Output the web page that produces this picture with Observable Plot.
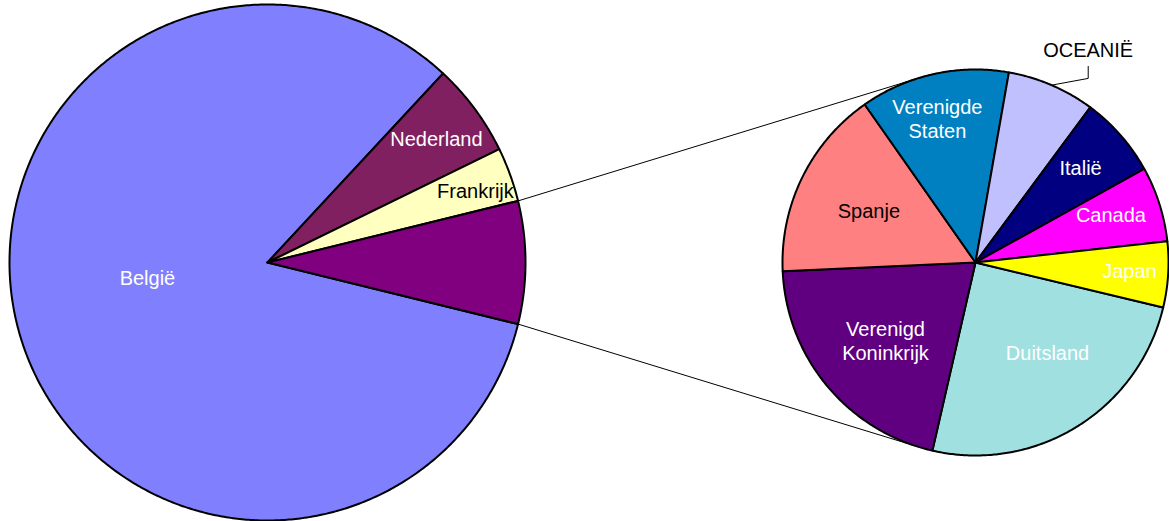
<!DOCTYPE html>
<html>
<head>
<meta charset="utf-8">
<script src="https://cdn.jsdelivr.net/npm/d3@7"></script>
<script src="https://cdn.jsdelivr.net/npm/@observablehq/plot@0.6"></script>
<style>
  html, body { margin: 0; padding: 0; background: #ffffff; }
  #chart svg { display: block; }
</style>
</head>
<body>
<div id="chart"></div>
<script>
// ---------- data ----------
const mainCategories = ["België", "Nederland", "Frankrijk"];
const mainValues = [83.08, 5.85, 3.40];
const otherCategory = "Overige";
const otherCategories = ["Duitsland", "Verenigd Koninkrijk", "Spanje", "Verenigde Staten", "OCEANIË", "Italië", "Canada", "Japan"];
const otherValues = [1.905, 1.587, 1.227, 0.959, 0.565, 0.522, 0.484, 0.422];
const labelTexts = {
  "België": "België", "Nederland": "Nederland", "Frankrijk": "Frankrijk",
  "Duitsland": "Duitsland", "Verenigd Koninkrijk": "Verenigd\nKoninkrijk",
  "Spanje": "Spanje", "Verenigde Staten": "Verenigde\nStaten", "OCEANIË": "OCEANIË",
  "Italië": "Italië", "Canada": "Canada", "Japan": "Japan"
};

// ---------- styles / layout ----------
const colors = {
  "België": "#8080FF", "Nederland": "#802060", "Frankrijk": "#FFFFC0", "Overige": "#800080",
  "Duitsland": "#A0E0E0", "Verenigd Koninkrijk": "#600080", "Spanje": "#FF8080",
  "Verenigde Staten": "#0080C0", "OCEANIË": "#C0C0FF", "Italië": "#000080",
  "Canada": "#FF00FF", "Japan": "#FFFF00"
};
const darkText = new Set(["Frankrijk", "Spanje", "OCEANIË"]);
// label placement: [angle shift in degrees from slice middle, radius as fraction of pie radius]
const labelPlacement = {
  "België": [9.5, 0.469], "Nederland": [0.3, 0.812], "Frankrijk": [0.8, 0.853],
  "Duitsland": [-6.9, 0.597], "Verenigd Koninkrijk": [-1.05, 0.617], "Spanje": [-0.3, 0.614],
  "Verenigde Staten": [-2.3, 0.771], "OCEANIË": [4.65, 1.249], "Italië": [-0.85, 0.734],
  "Canada": [-1.95, 0.745], "Japan": [-0.6, 0.799]
};
const W = 1169, H = 521;
const mainPie = {cx: 267, cy: 262, r: 258};
const secPie = {cx: 975, cy: 262, r: 193};
const secStartDeg = 103.5;
const rad = Math.PI / 180;

// ---------- geometry ----------
const otherTotal = d3.sum(otherValues);
const total = d3.sum(mainValues) + otherTotal;
const otherSpan = 2 * Math.PI * otherTotal / total;
const mainStart = Math.PI / 2 + otherSpan / 2;

const mainData = mainCategories.map((c, i) => ({name: c, value: mainValues[i]}))
  .concat([{name: otherCategory, value: otherTotal}]);
const secData = otherCategories.map((c, i) => ({name: c, value: otherValues[i]}));

const mainSlices = d3.pie().sort(null).value(d => d.value)
  .startAngle(mainStart).endAngle(mainStart + 2 * Math.PI)(mainData);
const secSlices = d3.pie().sort(null).value(d => d.value)
  .startAngle(secStartDeg * rad).endAngle(secStartDeg * rad + 2 * Math.PI)(secData);

function polar(pie, a, k) {
  return {x: pie.cx + k * pie.r * Math.sin(a), y: pie.cy - k * pie.r * Math.cos(a)};
}
function wedge(s, pie) {
  const n = Math.max(2, Math.ceil((s.endAngle - s.startAngle) / (0.5 * rad)));
  const pts = [{name: s.data.name, x: pie.cx, y: pie.cy}];
  for (let i = 0; i <= n; i++) {
    const a = s.startAngle + (s.endAngle - s.startAngle) * i / n;
    pts.push({name: s.data.name, ...polar(pie, a, 1)});
  }
  pts.push({name: s.data.name, x: pie.cx, y: pie.cy});
  return pts;
}
const mainPts = mainSlices.flatMap(s => wedge(s, mainPie));
const secPts = secSlices.flatMap(s => wedge(s, secPie));

// series lines: tangents from the "other" slice edges to the secondary pie
const otherSlice = mainSlices[mainSlices.length - 1];
function tangent(p, c, side) {
  const dx = c.cx - p.x, dy = c.cy - p.y, d = Math.hypot(dx, dy);
  const phi = Math.atan2(dy, dx), alpha = Math.asin(c.r / d), L = Math.sqrt(d * d - c.r * c.r);
  const a = phi + side * alpha;
  return {x1: p.x, y1: p.y, x2: p.x + L * Math.cos(a), y2: p.y + L * Math.sin(a)};
}
const links = [
  tangent(polar(mainPie, otherSlice.startAngle, 1), secPie, -1),
  tangent(polar(mainPie, otherSlice.endAngle, 1), secPie, 1)
];

// labels
function labelFor(s, pie) {
  const [shift, k] = labelPlacement[s.data.name];
  const a = (s.startAngle + s.endAngle) / 2 + shift * rad;
  return {name: s.data.name, text: labelTexts[s.data.name], dark: darkText.has(s.data.name), ...polar(pie, a, k)};
}
const labels = mainSlices.filter(s => s.data.name !== otherCategory).map(s => labelFor(s, mainPie))
  .concat(secSlices.map(s => labelFor(s, secPie)));

// leader line for the outside label
const oce = secSlices.find(s => s.data.name === "OCEANIË");
const oceLabel = labels.find(d => d.name === "OCEANIË");
const leader = [
  polar(secPie, (oce.startAngle + oce.endAngle) / 2, 1),
  {x: oceLabel.x, y: oceLabel.y + 29},
  {x: oceLabel.x, y: oceLabel.y + 17}
];

const font = "'Liberation Sans', Arial, Helvetica, sans-serif";
const chart = Plot.plot({
  width: W, height: H, margin: 0,
  x: {domain: [0, W], range: [0, W], axis: null},
  y: {domain: [0, H], range: [0, H], axis: null},
  color: {type: "ordinal", domain: Object.keys(colors), range: Object.values(colors)},
  style: {fontFamily: font, background: "white"},
  marks: [
    Plot.line(mainPts, {x: "x", y: "y", z: "name", fill: "name", stroke: "black", strokeWidth: 2, strokeLinejoin: "round"}),
    Plot.link(links, {x1: "x1", y1: "y1", x2: "x2", y2: "y2", stroke: "black", strokeWidth: 1}),
    Plot.line(secPts, {x: "x", y: "y", z: "name", fill: "name", stroke: "black", strokeWidth: 2, strokeLinejoin: "round"}),
    Plot.line(leader, {x: "x", y: "y", stroke: "black", strokeWidth: 1}),
    Plot.text(labels.filter(d => d.dark), {x: "x", y: "y", text: "text", fill: "black", fontSize: 20, lineHeight: 1.2, fontFamily: font}),
    Plot.text(labels.filter(d => !d.dark), {x: "x", y: "y", text: "text", fill: "white", fontSize: 20, lineHeight: 1.2, fontFamily: font})
  ]
});
document.getElementById("chart").appendChild(chart);
</script>
</body>
</html>
